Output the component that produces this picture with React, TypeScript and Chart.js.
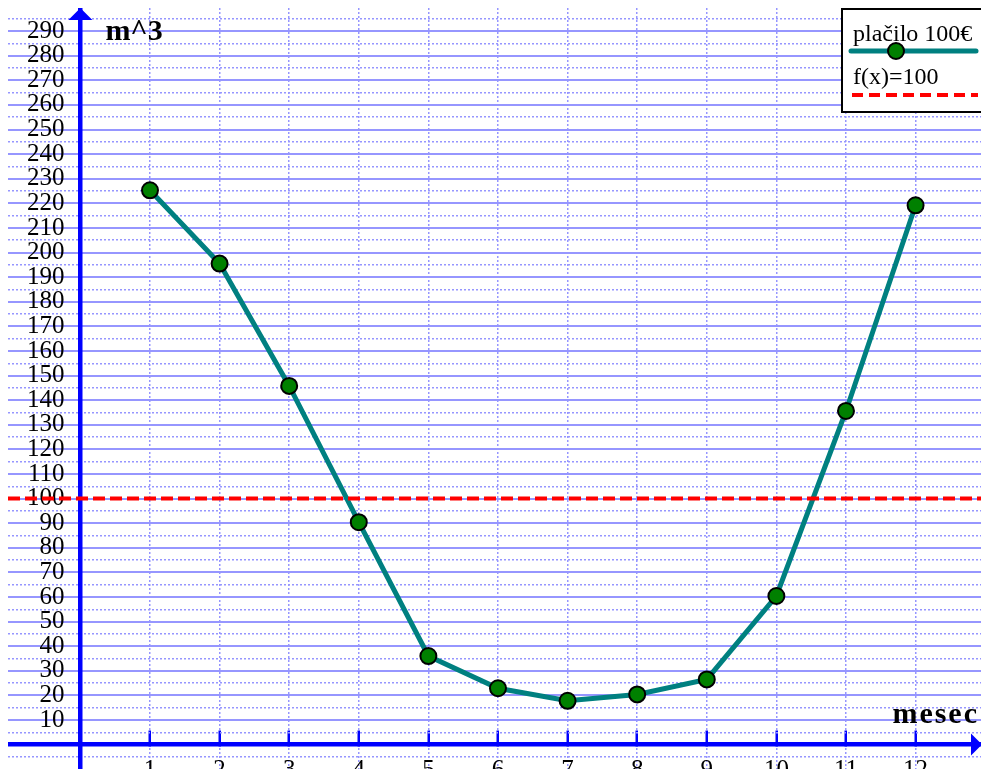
import { useEffect, useRef } from 'react';
import { Chart, registerables } from 'chart.js';

Chart.register(...registerables);

// ---- data ----
const MONTHS = [1, 2, 3, 4, 5, 6, 7, 8, 9, 10, 11, 12];
const CONSUMPTION = [225.3, 195.5, 145.8, 90.4, 36.0, 22.9, 17.8, 20.4, 26.5, 60.4, 135.6, 219.2];
const THRESHOLD = 100;
const Y_TICK_LABELS = [10, 20, 30, 40, 50, 60, 70, 80, 90, 100, 110, 120, 130, 140, 150, 160, 170, 180, 190, 200, 210, 220, 230, 240, 250, 260, 270, 280, 290];
const X_TICK_LABELS = [1, 2, 3, 4, 5, 6, 7, 8, 9, 10, 11, 12];
const SERIES_LABEL = 'plačilo 100€';
const LINE_LABEL = 'f(x)=100';
const Y_TITLE = 'm^3';
const X_TITLE = 'mesec';

// ---- view window ----
const X_MIN = -1.04;
const X_MAX = 12.94;
const Y_MIN = -9.92;
const Y_MAX = 299.4;
const Y_LABEL_AXIS_X = -0.228;

const SERIF = '"Liberation Serif", "Times New Roman", "DejaVu Serif", serif';
const AXIS_COLOR = '#0000ff';
const GRID_COLOR = 'rgb(150,150,255)';
const TEAL = '#008080';
const GREEN = '#008000';
const RED = '#ff0000';

const noPad = (s: any) => {
  s.paddingLeft = 0;
  s.paddingRight = 0;
  s.paddingTop = 0;
  s.paddingBottom = 0;
};

const decorPlugin = {
  id: 'decor',
  afterDraw(chart: any) {
    const { ctx, chartArea: ca, scales } = chart;
    const xs = scales.x;
    const ys = scales.y;
    const ax = xs.getPixelForValue(0);
    const ay = ys.getPixelForValue(0);
    ctx.save();
    // arrow heads
    ctx.fillStyle = AXIS_COLOR;
    ctx.beginPath();
    ctx.moveTo(ax, ca.top);
    ctx.lineTo(ax - 12, ca.top + 12);
    ctx.lineTo(ax + 12, ca.top + 12);
    ctx.closePath();
    ctx.fill();
    ctx.beginPath();
    ctx.moveTo(ca.right + 1, ay);
    ctx.lineTo(ca.right - 10, ay - 11);
    ctx.lineTo(ca.right - 10, ay + 11);
    ctx.closePath();
    ctx.fill();

    // axis titles
    ctx.fillStyle = '#000';
    ctx.font = `bold 30px ${SERIF}`;
    ctx.textBaseline = 'alphabetic';
    ctx.textAlign = 'left';
    ctx.fillText(Y_TITLE, ax + 25, ca.top + 32);
    ctx.textAlign = 'right';
    (ctx as any).letterSpacing = '2px';
    ctx.fillText(X_TITLE, ca.right - 2, ay - 22);
    (ctx as any).letterSpacing = '0px';

    // legend
    const ds0 = chart.data.datasets[1];
    const ds1 = chart.data.datasets[0];
    const lx = ca.right - 139;
    const ly = ca.top + 1;
    ctx.fillStyle = '#ffffff';
    ctx.fillRect(lx, ly, 160, 103);
    ctx.strokeStyle = '#000';
    ctx.lineWidth = 2;
    ctx.strokeRect(lx, ly, 160, 103);

    ctx.fillStyle = '#000';
    ctx.font = `24px ${SERIF}`;
    ctx.textAlign = 'left';
    ctx.fillText(SERIES_LABEL, lx + 11, ly + 32);
    ctx.fillText(LINE_LABEL, lx + 11, ly + 75);

    ctx.strokeStyle = ds0.borderColor;
    ctx.lineWidth = ds0.borderWidth;
    ctx.lineCap = 'round';
    ctx.beginPath();
    ctx.moveTo(lx + 9, ly + 42);
    ctx.lineTo(ca.right - 5, ly + 42);
    ctx.stroke();
    ctx.fillStyle = ds0.pointBackgroundColor;
    ctx.strokeStyle = ds0.pointBorderColor;
    ctx.lineWidth = ds0.pointBorderWidth;
    ctx.beginPath();
    ctx.arc(lx + 54, ly + 42, ds0.pointRadius, 0, Math.PI * 2);
    ctx.fill();
    ctx.stroke();

    ctx.strokeStyle = ds1.borderColor;
    ctx.lineWidth = ds1.borderWidth;
    ctx.lineCap = 'butt';
    ctx.setLineDash([11, 6]);
    ctx.beginPath();
    ctx.moveTo(lx + 10, ly + 86);
    ctx.lineTo(ca.right - 3, ly + 86);
    ctx.stroke();
    ctx.restore();
  },
};

export default function App() {
  const ref = useRef<HTMLCanvasElement | null>(null);

  useEffect(() => {
    if (!ref.current) return;
    const points = MONTHS.map((m, i) => ({ x: m, y: CONSUMPTION[i] }));
    const chart = new Chart(ref.current, {
      type: 'line',
      data: {
        datasets: [
          {
            label: LINE_LABEL,
            data: [
              { x: X_MIN, y: THRESHOLD },
              { x: X_MAX, y: THRESHOLD },
            ],
            borderColor: RED,
            borderWidth: 4,
            borderDash: [12, 5],
            pointRadius: 0,
            fill: false,
            xAxisID: 'x',
            yAxisID: 'y',
          },
          {
            label: SERIES_LABEL,
            data: points,
            borderColor: TEAL,
            borderWidth: 5,
            pointRadius: 8,
            pointBackgroundColor: GREEN,
            pointBorderColor: '#000000',
            pointBorderWidth: 2,
            tension: 0,
            fill: false,
            xAxisID: 'x',
            yAxisID: 'y',
          },
        ],
      },
      options: {
        responsive: false,
        animation: false,
        layout: { padding: 0, autoPadding: false } as any,
        plugins: {
          legend: { display: false },
          tooltip: { enabled: false },
        },
        scales: {
          x: {
            type: 'linear',
            min: X_MIN,
            max: X_MAX,
            position: { y: 0 } as any,
            afterFit: noPad,
            ticks: {
              stepSize: 1,
              includeBounds: false,
              autoSkip: false,
              maxRotation: 0,
              padding: 27,
              color: '#000',
              font: { family: SERIF, size: 25 },
              callback: (v: any) => (X_TICK_LABELS.includes(v) ? String(v) : ''),
            },
            grid: {
              color: (c: any) => (c.tick && c.tick.value >= 1 ? GRID_COLOR : 'rgba(0,0,0,0)'),
              lineWidth: 1.5,
              drawTicks: true,
              tickLength: -16,
              tickWidth: 2.5,
              tickColor: (c: any) => (c.tick && X_TICK_LABELS.includes(c.tick.value) ? AXIS_COLOR : 'rgba(0,0,0,0)'),
            },
            border: { display: true, color: AXIS_COLOR, width: 4.5, dash: [2, 2] },
          } as any,
          y: {
            type: 'linear',
            min: Y_MIN,
            max: Y_MAX,
            position: { x: 0 } as any,
            afterFit: noPad,
            ticks: { display: false, stepSize: 5, includeBounds: false, autoSkip: false },
            grid: {
              color: (c: any) => (c.tick && c.tick.value !== 0 ? GRID_COLOR : 'rgba(0,0,0,0)'),
              lineWidth: (c: any) => (c.tick && c.tick.value % 10 === 0 ? 2 : 1.5),
              drawTicks: false,
            },
            border: {
              display: true,
              color: AXIS_COLOR,
              width: 4.5,
              dash: (c: any) => (c.tick && c.tick.value % 10 === 0 ? [] : [2, 2]),
            },
          } as any,
          yLab: {
            type: 'linear',
            min: Y_MIN,
            max: Y_MAX,
            position: { x: Y_LABEL_AXIS_X } as any,
            afterFit: noPad,
            grid: { display: false, drawTicks: false },
            border: { display: false },
            ticks: {
              stepSize: 10,
              includeBounds: false,
              autoSkip: false,
              padding: 0,
              color: '#000',
              font: { family: SERIF, size: 25 },
              callback: (v: any) => (Y_TICK_LABELS.includes(v) ? String(v) : ''),
            },
          } as any,
        },
      },
      plugins: [decorPlugin],
    });
    return () => chart.destroy();
  }, []);

  return (
    <div style={{ position: 'fixed', left: 8, top: 8, width: 973, height: 761, overflow: 'hidden', background: '#fff' }}>
      <canvas ref={ref} width={973} height={761} style={{ display: 'block' }} />
    </div>
  );
}
